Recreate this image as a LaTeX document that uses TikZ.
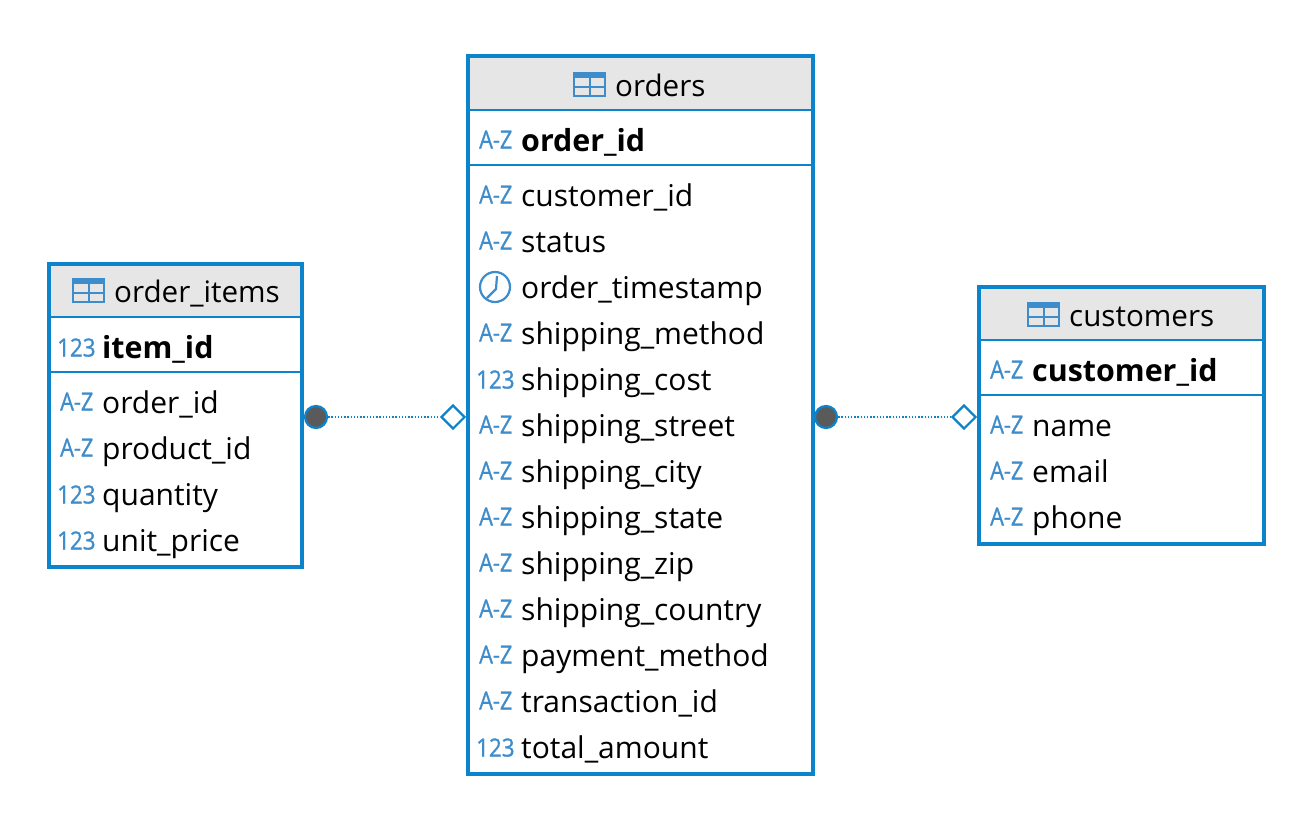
\documentclass[tikz,border=0pt]{standalone}
\usepackage{fontspec}
\setmainfont{Open Sans}
\newfontfamily\iconfont[FakeBold=1]{Open Sans}
\usetikzlibrary{shapes.geometric}
\definecolor{bl}{HTML}{0B84CC}
\definecolor{ic}{HTML}{3D8CCB}
\definecolor{hd}{HTML}{E6E6E6}
\definecolor{dk}{HTML}{5A5A5A}
\tikzset{
  x=1pt,y=-1pt,
  tablebox/.style={draw=bl,line width=4pt,fill=white,outer sep=0pt,inner sep=0pt,anchor=north west},
  sepline/.style={draw=bl,line width=1.6pt},
  rowtext/.style={anchor=base west,inner sep=0pt,yshift=-1pt,font=\fontsize{30}{30}\selectfont,text=black},
  pktext/.style={rowtext,font=\fontsize{30.4}{30}\selectfont\bfseries},
  titletext/.style={rowtext,font=\fontsize{29.6}{30}\selectfont},
  icontext/.style={anchor=base west,inner sep=0pt,yshift=-.5pt,font=\fontsize{25}{25}\iconfont,text=ic,xscale=.87},
  numtext/.style={icontext,xscale=1.03},
  crowdot/.style={circle,fill=dk,draw=bl,line width=2.2pt,minimum size=22pt,inner sep=0pt},
  onediamond/.style={diamond,draw=bl,fill=white,line width=2.2pt,minimum width=24pt,minimum height=24pt,inner sep=0pt,aspect=1},
  rel/.style={draw=bl,line width=1.5pt,dash pattern=on 1.5pt off 1.7pt,line cap=butt},
}
\newcommand{\az}[2]{\node[icontext] at (#1,#2) {A-Z};}
\newcommand{\nums}[2]{\node[numtext] at (#1,#2) {123};}
\newcommand{\tabicon}[2]{%
  \fill[ic] (#1,#2) rectangle +(33,5.5);
  \draw[ic,line width=2pt] (#1+1,#2+1) rectangle (#1+32,#2+24);
  \draw[ic,line width=2pt] (#1+16.5,#2+3) -- (#1+16.5,#2+24) (#1,#2+14.5) -- (#1+33,#2+14.5);
}
\begin{document}
\begin{tikzpicture}
\useasboundingbox (0,0) rectangle (1312,820);
\fill[white] (0,0) rectangle (1312,820);

% orders
\node[tablebox,minimum width=345pt,minimum height=718pt] (orders) at (468,56) {};
\fill[hd] (470,58) rectangle (811,109);
\draw[sepline] (468,110) -- (813,110) (468,165) -- (813,165);
\tabicon{573}{72}
\node[titletext] (ordersT) at (615,95) {orders};
\az{479}{148}
\node[pktext] (o0) at (521,150) {order\_id};
\az{479}{203}
\node[rowtext] (o1) at (521,205) {customer\_id};
\az{479}{249}
\node[rowtext] (o2) at (521,251) {status};
\draw[ic,line width=2.2pt] (495,287) circle (15pt);
\draw[ic,line width=2.2pt] (497,276) -- (496,289) -- (487,298);
\node[rowtext] (o3) at (521,297) {order\_timestamp};
\az{479}{341}
\node[rowtext] (o4) at (521,343) {shipping\_method};
\nums{476}{388}
\node[rowtext] (o5) at (521,389) {shipping\_cost};
\az{479}{433}
\node[rowtext] (o6) at (521,435) {shipping\_street};
\az{479}{479}
\node[rowtext] (o7) at (521,481) {shipping\_city};
\az{479}{525}
\node[rowtext] (o8) at (521,527) {shipping\_state};
\az{479}{571}
\node[rowtext] (o9) at (521,573) {shipping\_zip};
\az{479}{617}
\node[rowtext] (o10) at (521,619) {shipping\_country};
\az{479}{663}
\node[rowtext] (o11) at (521,665) {payment\_method};
\az{479}{709}
\node[rowtext] (o12) at (521,711) {transaction\_id};
\nums{476}{756}
\node[rowtext] (o13) at (521,757) {total\_amount};

% order_items
\node[tablebox,minimum width=253pt,minimum height=303pt] (items) at (49,264) {};
\fill[hd] (51,266) rectangle (300,316);
\draw[sepline] (49,317) -- (302,317) (49,372) -- (302,372);
\tabicon{72}{278}
\node[titletext] (itemsT) at (114,301) {order\_items};
\nums{57}{356}
\node[pktext] (i0) at (102,357) {item\_id};
\az{60}{410}
\node[rowtext] (i1) at (102,412) {order\_id};
\az{60}{456}
\node[rowtext] (i2) at (102,458) {product\_id};
\nums{57}{503}
\node[rowtext] (i3) at (102,504) {quantity};
\nums{57}{549}
\node[rowtext] (i4) at (102,550) {unit\_price};

% customers
\node[tablebox,minimum width=285pt,minimum height=257pt] (cust) at (979,287) {};
\fill[hd] (981,289) rectangle (1262,339);
\draw[sepline] (979,340) -- (1264,340) (979,395) -- (1264,395);
\tabicon{1027}{302}
\node[titletext] (custT) at (1069,325) {customers};
\az{990}{378}
\node[pktext] (c0) at (1032,380) {customer\_id};
\az{990}{433}
\node[rowtext] (c1) at (1032,435) {name};
\az{990}{479}
\node[rowtext] (c2) at (1032,481) {email};
\az{990}{525}
\node[rowtext] (c3) at (1032,527) {phone};

% relations
\node[crowdot] (d1) at (316,417) {};
\node[onediamond] (m1) at (453,417) {};
\node[crowdot] (d2) at (826,417) {};
\node[onediamond] (m2) at (964,417) {};
\draw[rel] (d1) -- (m1);
\draw[rel] (d2) -- (m2);
\end{tikzpicture}
\end{document}
